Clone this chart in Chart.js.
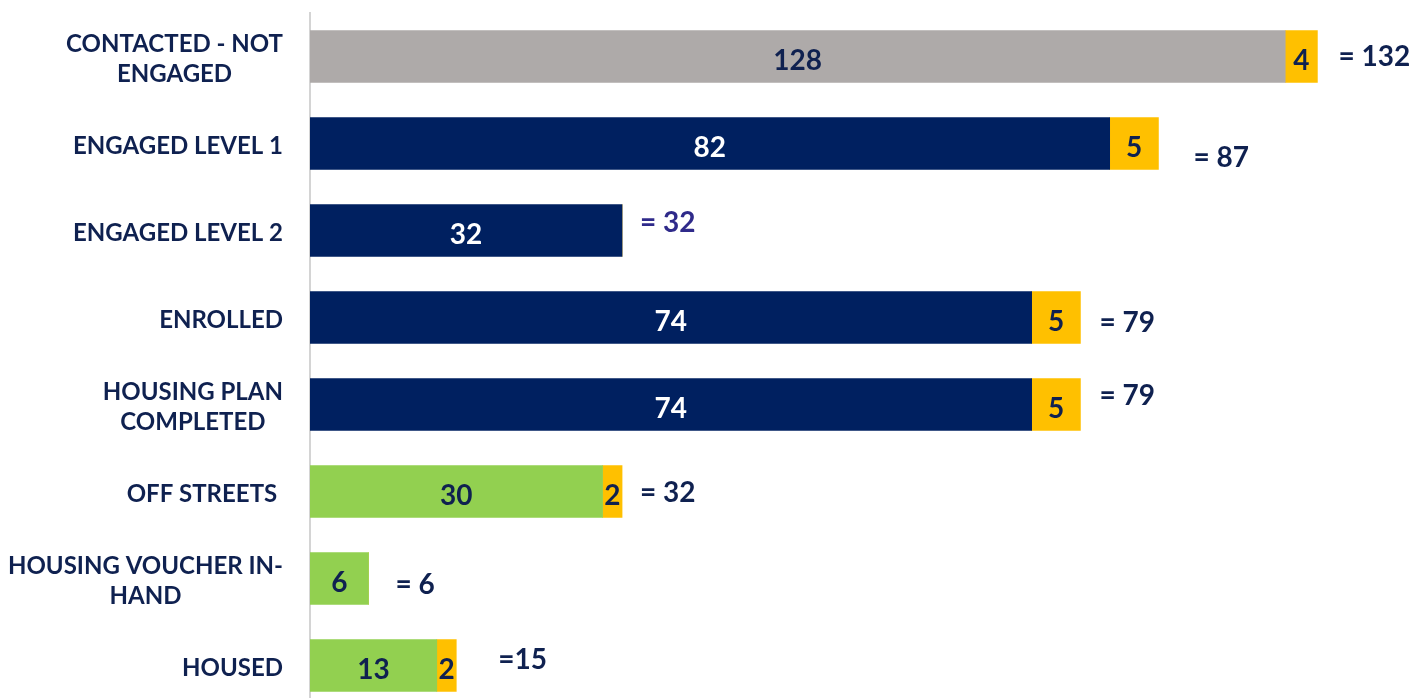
<!DOCTYPE html>
<html>
<head>
<meta charset="utf-8">
<script src="https://cdn.jsdelivr.net/npm/chart.js@4.4.1/dist/chart.umd.min.js"></script>
<style>
    html, body { margin: 0; padding: 0; background: #fff; overflow: hidden; }
    /* chart runs a little past the bottom of the window, as in the source */
    #wrap { width: 1412px; height: 709px; }
</style>
</head>
<body>
<div id="wrap"><canvas id="barChart"></canvas></div>
<script>
const categories = [
    ['CONTACTED - NOT', 'ENGAGED'],
    ['ENGAGED LEVEL 1'],
    ['ENGAGED LEVEL 2'],
    ['ENROLLED'],
    ['HOUSING PLAN', 'COMPLETED'],
    ['OFF STREETS '],
    ['HOUSING VOUCHER IN-', 'HAND'],
    ['HOUSED']
];
const baseValues = [128, 82, 32, 74, 74, 30, 6, 13];
const addedValues = [4, 5, 0, 5, 5, 2, 0, 2];
const totalLabels = ['= 132', '= 87', '= 32', '= 79', '= 79', '= 32', '= 6', '=15'];

// The source draws the first bar shortened (broken scale); lengths
const brokenBar = { index: 0, base: 100, added: 3.3 };

const NAVY_TEXT = '#0f2150';
const baseColors = ['#aeaaa9', '#002060', '#002060', '#002060', '#002060', '#92d050', '#92d050', '#92d050'];
const baseTextColors = [NAVY_TEXT, '#ffffff', '#ffffff', '#ffffff', '#ffffff', NAVY_TEXT, NAVY_TEXT, NAVY_TEXT];
// offsets of the "= total" labels from the end of each bar, as placed in the source
const totalOffsets = [[21, 0], [35, 14], [18, -8], [19, 5], [19, -9], [18, 1], [27, 6], [42, -6]];
const totalColors = [NAVY_TEXT, NAVY_TEXT, '#2f2a8a', NAVY_TEXT, NAVY_TEXT, NAVY_TEXT, NAVY_TEXT, NAVY_TEXT];

const FAMILY = 'Lato, "Open Sans", sans-serif';

const drawnBase = baseValues.map((v, i) => i === brokenBar.index ? brokenBar.base : v);
const drawnAdded = addedValues.map((v, i) => i === brokenBar.index ? brokenBar.added : v);

// category labels: block right-aligned, lines centred within the block
const categoryLabels = {
    id: 'categoryLabels',
    afterDraw(chart) {
        const ctx = chart.ctx;
        const yScale = chart.scales.y;
        ctx.save();
        ctx.font = 'bold 24px ' + FAMILY;
        ctx.fillStyle = NAVY_TEXT;
        ctx.textAlign = 'center';
        ctx.textBaseline = 'middle';
        categories.forEach((lines, i) => {
            const y = yScale.getPixelForValue(i);
            const blockW = Math.max(...lines.map(l => ctx.measureText(l).width));
            const cx = chart.chartArea.left - 27 - blockW / 2;
            lines.forEach((line, j) => {
                ctx.fillText(line, cx, y + 3 + (j - (lines.length - 1) / 2) * 30);
            });
        });
        ctx.restore();
    }
};

const valueLabels = {
    id: 'valueLabels',
    afterDatasetsDraw(chart) {
        const ctx = chart.ctx;
        ctx.save();
        ctx.font = 'bold 28px ' + FAMILY;
        ctx.textAlign = 'center';
        ctx.textBaseline = 'middle';
        [baseValues, addedValues].forEach((values, di) => {
            chart.getDatasetMeta(di).data.forEach((bar, i) => {
                if (!values[i]) return;
                const { x, y, base } = bar.getProps(['x', 'y', 'base'], true);
                ctx.fillStyle = di === 0 ? baseTextColors[i] : NAVY_TEXT;
                ctx.fillText(String(values[i]), (x + base) / 2, y + 4);
            });
        });
        // totals to the right of each bar
        ctx.textAlign = 'left';
        chart.getDatasetMeta(1).data.forEach((bar, i) => {
            const [dx, dy] = totalOffsets[i];
            ctx.fillStyle = totalColors[i];
            ctx.fillText(totalLabels[i], bar.x + dx, bar.y + dy);
        });
        ctx.restore();
    }
};

document.addEventListener('DOMContentLoaded', () => {
    const ctx = document.getElementById('barChart').getContext('2d');
    new Chart(ctx, {
        type: 'bar',
        data: {
            labels: categories.map(c => c.join(' ')),
            datasets: [
                {
                    label: 'Base',
                    data: drawnBase,
                    backgroundColor: baseColors,
                    barThickness: 52
                },
                {
                    label: 'Added',
                    data: drawnAdded,
                    backgroundColor: '#ffc000',
                    barThickness: 52
                }
            ]
        },
        options: {
            indexAxis: 'y',
            responsive: true,
            maintainAspectRatio: false,
            animation: false,
            layout: { padding: { top: 13, bottom: 0, left: 0, right: 0 } },
            plugins: {
                legend: { display: false },
                tooltip: { enabled: false }
            },
            scales: {
                x: {
                    stacked: true,
                    display: false,
                    min: 0,
                    max: 113
                },
                y: {
                    stacked: true,
                    grid: { display: false },
                    border: { display: true, color: '#d4d4d4', width: 2 },
                    ticks: { display: false },
                    afterFit: scale => { scale.width = 310; }
                }
            }
        },
        plugins: [categoryLabels, valueLabels]
    });
});
</script>
</body>
</html>
